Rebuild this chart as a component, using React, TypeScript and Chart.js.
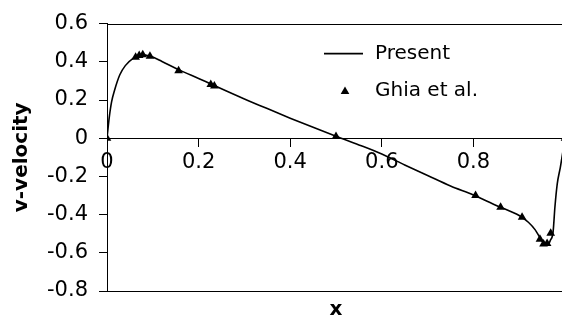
import React, { useEffect, useRef } from 'react';
import { Chart, registerables } from 'chart.js';

Chart.register(...registerables);

// "Present" numerical solution (x, v-velocity)
const presentX = [0, 0.005, 0.01, 0.017, 0.028, 0.04, 0.057, 0.07, 0.08, 0.09, 0.1, 0.12, 0.16, 0.2, 0.23, 0.3, 0.35, 0.4, 0.45, 0.5, 0.55, 0.6, 0.65, 0.7, 0.75, 0.8, 0.85, 0.9, 0.92, 0.935, 0.945, 0.955, 0.962, 0.968, 0.974, 0.978, 0.983, 0.99, 1.0];
const presentV = [0, 0.11, 0.19, 0.255, 0.332, 0.38, 0.418, 0.432, 0.436, 0.432, 0.425, 0.402, 0.355, 0.313, 0.28, 0.205, 0.155, 0.105, 0.057, 0.01, -0.035, -0.083, -0.14, -0.195, -0.25, -0.297, -0.352, -0.405, -0.44, -0.48, -0.52, -0.555, -0.56, -0.535, -0.49, -0.36, -0.24, -0.15, 0];

// Ghia et al. reference points
const ghiaX = [0.0, 0.0625, 0.0703, 0.0781, 0.0938, 0.1563, 0.2266, 0.2344, 0.5, 0.8047, 0.8594, 0.9063, 0.9453, 0.9531, 0.9609, 0.9688, 1.0];
const ghiaV = [0.0, 0.42447, 0.43329, 0.43648, 0.42951, 0.35368, 0.28066, 0.2728, 0.00945, -0.30018, -0.36214, -0.41442, -0.52876, -0.55408, -0.55069, -0.49774, 0.0];

const seriesLabels = ['Present', 'Ghia et al.'];
const xTickValues = [0, 0.2, 0.4, 0.6, 0.8];
const xTickLabels = ['0', '0.2', '0.4', '0.6', '0.8'];
const yTickValues = [0.6, 0.4, 0.2, 0, -0.2, -0.4, -0.6, -0.8];
const yTickLabels = ['0.6', '0.4', '0.2', '0', '-0.2', '-0.4', '-0.6', '-0.8'];
const xTitle = 'x';
const yTitle = 'v-velocity';

const FONT = '"DejaVu Sans", sans-serif';

const labelFor = (values: number[], labels: string[], v: number) => {
  const i = values.findIndex((t) => Math.abs(t - v) < 1e-9);
  return i >= 0 ? labels[i] : '';
};

const framePlugin = {
  id: 'frame',
  afterDatasetsDraw(chart: any) {
    const { ctx, chartArea } = chart;
    ctx.save();
    ctx.strokeStyle = '#000';
    ctx.lineWidth = 1;
    ctx.beginPath();
    ctx.moveTo(chartArea.left, Math.round(chartArea.top) + 0.5);
    ctx.lineTo(chartArea.right, Math.round(chartArea.top) + 0.5);
    ctx.stroke();
    ctx.restore();
  },
};

const legendPlugin = {
  id: 'insideLegend',
  afterDraw(chart: any) {
    const { ctx, chartArea } = chart;
    const x0 = chartArea.left + 217;
    const rows = [chartArea.top + 30, chartArea.top + 67];
    ctx.save();
    ctx.font = `20px ${FONT}`;
    ctx.textBaseline = 'middle';
    ctx.textAlign = 'left';
    chart.data.datasets.forEach((ds: any, i: number) => {
      const y = rows[i];
      if (ds.showLine !== false) {
        ctx.strokeStyle = ds.borderColor;
        ctx.lineWidth = ds.borderWidth;
        ctx.beginPath();
        ctx.moveTo(x0, y);
        ctx.lineTo(x0 + 39, y);
        ctx.stroke();
      } else {
        const cx = x0 + 21;
        const r = ds.pointRadius;
        ctx.fillStyle = ds.backgroundColor;
        ctx.beginPath();
        for (let k = 0; k < 3; k++) {
          const a = -Math.PI / 2 + (k * 2 * Math.PI) / 3;
          const px = cx + r * Math.cos(a);
          const py = y + 1 + r * Math.sin(a);
          if (k === 0) ctx.moveTo(px, py);
          else ctx.lineTo(px, py);
        }
        ctx.closePath();
        ctx.fill();
      }
      ctx.fillStyle = '#000';
      ctx.fillText(ds.label, x0 + 51, y);
    });
    ctx.restore();
  },
};

export default function App() {
  const ref = useRef<HTMLCanvasElement>(null);

  useEffect(() => {
    const canvas = ref.current;
    if (!canvas) return;
    const chart = new Chart(canvas, {
      type: 'line',
      data: {
        datasets: [
          {
            label: seriesLabels[0],
            data: presentX.map((x, i) => ({ x, y: presentV[i] })),
            borderColor: '#000',
            backgroundColor: '#000',
            borderWidth: 1.6,
            pointRadius: 0,
            cubicInterpolationMode: 'monotone',
            fill: false,
            order: 2,
          },
          {
            label: seriesLabels[1],
            data: ghiaX.map((x, i) => ({ x, y: ghiaV[i] })),
            showLine: false,
            borderColor: '#000',
            backgroundColor: '#000',
            pointStyle: 'triangle',
            pointRadius: 5,
            pointBorderWidth: 0,
            order: 1,
          },
        ],
      },
      options: {
        animation: false,
        responsive: false,
        devicePixelRatio: 1,
        layout: { padding: { top: 20, right: 3, left: 0, bottom: 0 } },
        plugins: { legend: { display: false }, tooltip: { enabled: false } },
        scales: {
          x: {
            type: 'linear',
            position: { y: 0 } as any,
            min: 0,
            max: 1,
            afterBuildTicks: (s: any) => {
              s.ticks = xTickValues.map((v) => ({ value: v }));
            },
            afterFit: (s: any) => {
              s.height = 0;
            },
            ticks: {
              color: '#000',
              font: { family: FONT, size: 21 },
              padding: 4,
              maxRotation: 0,
              autoSkip: false,
              callback: (v: any) => labelFor(xTickValues, xTickLabels, Number(v)),
            },
            grid: { drawOnChartArea: false, drawTicks: true, tickLength: 8, color: '#000' },
            border: { display: true, color: '#000', width: 1 },
          },
          xb: {
            type: 'linear',
            position: 'bottom',
            axis: 'x',
            min: 0,
            max: 1,
            afterFit: (s: any) => {
              s.height = 37;
            },
            ticks: { display: false },
            grid: { display: true, drawOnChartArea: false, drawTicks: false, color: '#000' },
            border: { display: true, color: '#000', width: 1 },
            title: {
              display: true,
              text: xTitle,
              color: '#000',
              font: { family: FONT, size: 20, weight: 'bold' },
              padding: { top: 4, bottom: 6 },
            },
          },
          y: {
            type: 'linear',
            position: 'left',
            min: -0.8,
            max: 0.6,
            afterBuildTicks: (s: any) => {
              s.ticks = yTickValues.map((v) => ({ value: v }));
            },
            afterFit: (s: any) => {
              s.width = 107;
            },
            ticks: {
              color: '#000',
              font: { family: FONT, size: 21 },
              padding: 11,
              autoSkip: false,
              callback: (v: any) => labelFor(yTickValues, yTickLabels, Number(v)),
            },
            grid: { drawOnChartArea: false, drawTicks: true, tickLength: 8, color: '#000' },
            border: { display: true, color: '#000', width: 1 },
            title: {
              display: true,
              text: yTitle,
              color: '#000',
              font: { family: FONT, size: 20, weight: 'bold' },
              padding: { top: 10, bottom: 4 },
            },
          },
        },
      } as any,
      plugins: [framePlugin, legendPlugin],
    });
    return () => chart.destroy();
  }, []);

  return (
    <div
      style={{
        position: 'fixed',
        left: 0,
        top: 0,
        width: 562,
        height: 328,
        overflow: 'hidden',
        background: '#fff',
      }}
    >
      <canvas ref={ref} width={570} height={328} style={{ display: 'block', width: 570, height: 328 }} />
    </div>
  );
}
